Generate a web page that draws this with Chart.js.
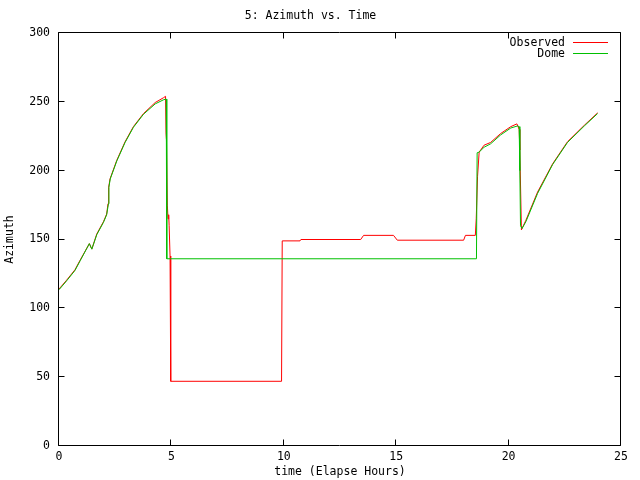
<!DOCTYPE html>
<html>
<head>
<meta charset="utf-8">
<script src="https://cdn.jsdelivr.net/npm/chart.js@4/dist/chart.umd.min.js"></script>
<style>
  html, body { margin: 0; padding: 0; background: #fff; }
  #wrap { width: 640px; height: 480px; position: relative; }
</style>
</head>
<body>
<div id="wrap"><canvas id="c"></canvas></div>
<script>
// ---- Data ----
const titleText = '5: Azimuth vs. Time';
const xTitle = 'time (Elapse Hours)';
const yTitle = 'Azimuth';
const seriesNames = ['Observed', 'Dome'];

const xTickValues = [0, 5, 10, 15, 20, 25];
const yTickValues = [0, 50, 100, 150, 200, 250, 300];

const obsTime = [0, 0.34, 0.71, 0.94, 1.35, 1.46, 1.68, 1.98, 2.12, 2.18, 2.21, 2.27, 2.57, 2.94, 3.31, 3.76, 4.28, 4.65, 4.74,
  4.76, 4.78, 4.82, 4.85, 4.88, 4.90, 4.94, 4.97, 9.90, 9.93, 10.72, 10.76, 13.42, 13.55, 14.88, 15.05, 18.00, 18.08, 18.52,
  18.56, 18.62, 18.69, 18.91, 19.2, 19.65, 20.1, 20.37, 20.47, 20.5, 20.57, 20.77, 21.29, 21.96, 22.62, 23.37, 23.96];
const obsAz = [114, 120.5, 128, 135, 147, 143, 154, 163, 168.5, 176, 188, 194, 207.5, 221, 232, 241.5, 249.5, 253, 254,
  228, 223, 175, 165, 168, 160, 138, 47, 47, 149, 149, 150, 150, 153, 153, 149.5, 149.5, 153, 153,
  165, 196, 213.5, 218.5, 220.5, 227, 232, 234, 230, 215, 157, 164, 184.5, 205, 221, 233, 242];

const domeTime = [0, 0.34, 0.71, 0.94, 1.35, 1.46, 1.68, 1.98, 2.12, 2.2, 2.22, 2.28, 2.57, 2.94, 3.31, 3.76, 4.28, 4.65, 4.77,
  4.79, 4.80, 18.57, 18.6, 18.69, 18.91, 19.2, 19.65, 20.1, 20.4, 20.47, 20.5, 20.53, 20.6, 20.77, 21.29, 21.96, 22.62, 23.37, 23.96];
const domeAz = [113.5, 120, 127.5, 134.5, 147, 143, 153.5, 162.5, 168, 176, 188, 194, 207, 220.5, 231.5, 241, 248.5, 251.5, 252,
  180, 136, 136, 213, 213.5, 217, 219.5, 226, 231, 232.5, 232, 200, 160, 158, 163, 183.5, 204.5, 220.5, 232.5, 241.5];

const colors = ['#ff0000', '#00c000'];
const FONT = '"DejaVu Sans Mono", "Liberation Mono", monospace';
const FS = 11.5;

function pairs(xs, ys) { return xs.map((x, i) => ({ x: x, y: ys[i] })); }

// Frame, inward ticks (mirrored) and gnuplot-style key
const framePlugin = {
  id: 'frame',
  afterDraw(chart) {
    const ctx = chart.ctx;
    const a = chart.chartArea;
    const xs = chart.scales.x, ys = chart.scales.y;
    const L = Math.round(a.left) - 0.5, R = Math.round(a.right) - 0.5;
    const T = Math.round(a.top) - 0.5, B = Math.round(a.bottom) - 0.5;
    const tl = 6;
    ctx.save();
    ctx.strokeStyle = '#000';
    ctx.lineWidth = 1;
    ctx.beginPath();
    ctx.rect(L, T, R - L, B - T);
    xTickValues.forEach(v => {
      const p = Math.round(xs.getPixelForValue(v)) - 0.5;
      ctx.moveTo(p, B); ctx.lineTo(p, B - tl);
      ctx.moveTo(p, T); ctx.lineTo(p, T + tl);
    });
    yTickValues.forEach(v => {
      const p = Math.round(ys.getPixelForValue(v)) - 0.5;
      ctx.moveTo(L, p); ctx.lineTo(L + tl, p);
      ctx.moveTo(R, p); ctx.lineTo(R - tl, p);
    });
    ctx.stroke();

    // key
    ctx.font = FS + 'px ' + FONT;
    ctx.textAlign = 'right';
    ctx.textBaseline = 'middle';
    const keyTextRight = 565, lineX0 = 573, lineX1 = 608;
    seriesNames.forEach((name, i) => {
      const y = 43 + i * 11;
      ctx.fillStyle = '#000';
      ctx.fillText(name, keyTextRight, y);
      ctx.strokeStyle = colors[i];
      ctx.beginPath();
      ctx.moveTo(lineX0, Math.round(y) - 0.5);
      ctx.lineTo(lineX1, Math.round(y) - 0.5);
      ctx.stroke();
    });
    ctx.restore();
  }
};

new Chart(document.getElementById('c'), {
  type: 'line',
  data: {
    datasets: [
      { label: seriesNames[0], data: pairs(obsTime, obsAz), borderColor: colors[0], backgroundColor: colors[0],
        borderWidth: 1, pointRadius: 0, tension: 0, fill: false, order: 1 },
      { label: seriesNames[1], data: pairs(domeTime, domeAz), borderColor: colors[1], backgroundColor: colors[1],
        borderWidth: 1, pointRadius: 0, tension: 0, fill: false, order: 0 }
    ]
  },
  options: {
    responsive: true,
    maintainAspectRatio: false,
    animation: false,
    devicePixelRatio: 1,
    layout: { padding: { left: 0, right: 19, top: 0, bottom: 0 } },
    plugins: {
      legend: { display: false },
      tooltip: { enabled: false },
      title: {
        display: true, text: titleText, color: '#000',
        font: { family: FONT, size: FS, weight: 'normal' },
        padding: { top: 9, bottom: 10.2 }
      }
    },
    scales: {
      x: {
        type: 'linear', min: 0, max: 25,
        afterBuildTicks: s => { s.ticks = xTickValues.map(v => ({ value: v })); },
        grid: { display: false, drawTicks: false },
        border: { display: false },
        ticks: { color: '#000', font: { family: FONT, size: FS }, padding: 4, maxRotation: 0 },
        title: { display: true, text: xTitle, color: '#000', font: { family: FONT, size: FS }, padding: { top: 0, bottom: 1 } },
        afterFit: s => { s.height = 34; }
      },
      y: {
        type: 'linear', min: 0, max: 300,
        afterBuildTicks: s => { s.ticks = yTickValues.map(v => ({ value: v })); },
        grid: { display: false, drawTicks: false },
        border: { display: false },
        ticks: { color: '#000', font: { family: FONT, size: FS }, padding: 9 },
        title: { display: true, text: yTitle, color: '#000', font: { family: FONT, size: FS }, padding: { top: 3.5, bottom: 0 } },
        afterFit: s => { s.width = 59; }
      }
    }
  },
  plugins: [framePlugin]
});
</script>
</body>
</html>
